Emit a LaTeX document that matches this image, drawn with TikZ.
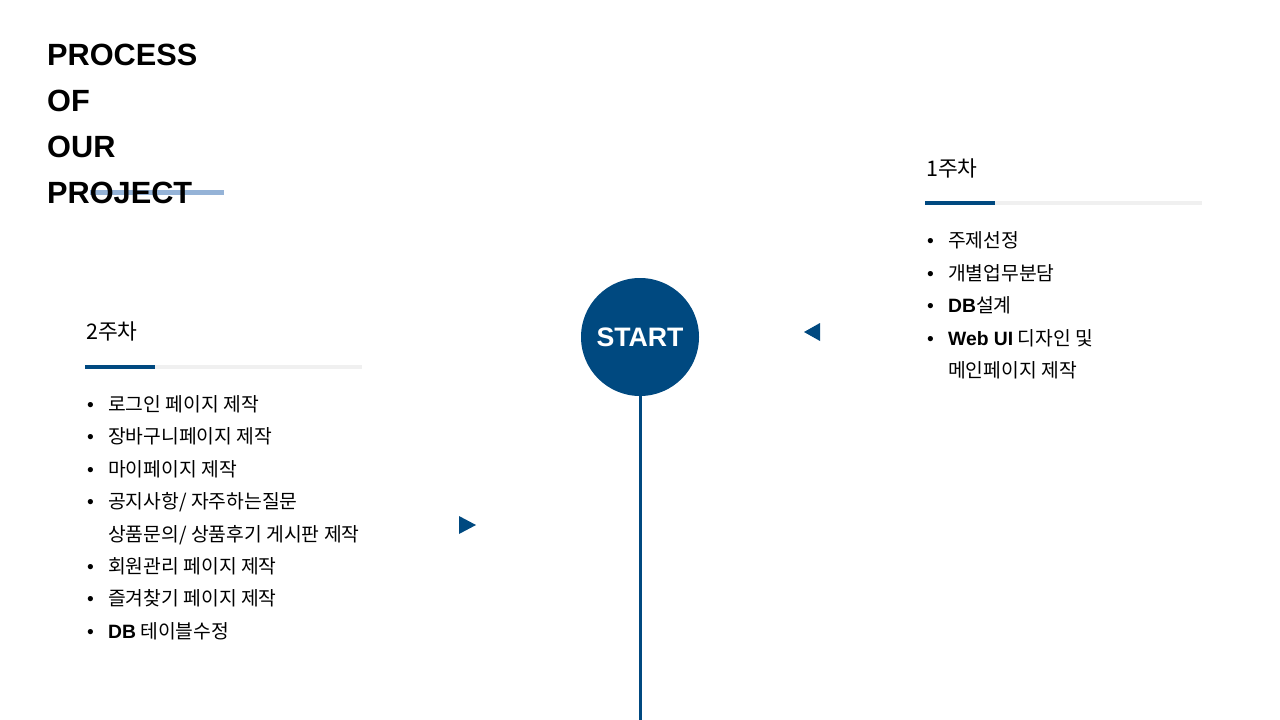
\documentclass[tikz,border=0pt]{standalone}
\usepackage{fontspec}
\setmainfont{Liberation Sans}
\newfontfamily\krfont{Noto Sans CJK KR}
\definecolor{navy}{RGB}{0,73,128}
\definecolor{paleblue}{RGB}{149,179,215}
\definecolor{lightgrey}{RGB}{240,240,240}
\newcommand\bul{\makebox[21pt][l]{\normalfont\textbullet}}
\newcommand\cont{\hspace*{21pt}}
\newcommand\lat[1]{{\normalfont\bfseries #1}}
\tikzset{
  title/.style={anchor=base west, inner sep=0pt, font=\fontsize{30.7}{36}\selectfont\bfseries},
  week/.style={anchor=base west, inner sep=0pt, font=\fontsize{21.5}{26}\selectfont\krfont},
  task/.style={anchor=base west, inner sep=0pt, font=\fontsize{19.3}{23}\selectfont\krfont},
  bar/.style={line width=4pt},
}
\begin{document}
\begin{tikzpicture}[x=1pt, y=-1pt]
  \useasboundingbox[fill=white] (0,0) rectangle (1280,720);

  % Title
  \draw[paleblue, line width=5pt] (90,192.5) -- (224,192.5);
  \foreach \word [count=\i] in {PROCESS, OF, OUR, PROJECT}
    \node (title\i) [title] at (47, 19+46*\i) {\word};

  % Start circle and time line
  \node (start) [circle, fill=navy, minimum size=118pt, inner sep=0pt,
    text=white, font=\fontsize{26.7}{30}\selectfont\bfseries] at (640,337) {START};
  \coordinate (lineend) at (640,720);
  \draw[navy, line width=3pt] (start.south) -- (lineend);

  % Markers
  \fill[navy] (820,323) -- (804,332) -- (820,341) -- cycle;
  \fill[navy] (459,516) -- (476,525) -- (459,534) -- cycle;

  % Week 1
  \node (week1) [week] at (926,176) {1주차};
  \draw[bar, lightgrey] (925,203) -- (1202,203);
  \draw[bar, navy] (925,203) -- (995,203);
  \foreach \txt [count=\i] in {\bul 주제선정, \bul 개별업무분담, \bul\lat{DB}설계,
      \bul\lat{Web UI} 디자인 및, \cont 메인페이지 제작}
    \node (taskA\i) [task] at (927, 215+32.5*\i) {\txt};

  % Week 2
  \node (week2) [week] at (86,339) {2주차};
  \draw[bar, lightgrey] (85,367) -- (362,367);
  \draw[bar, navy] (85,367) -- (155,367);
  \foreach \txt [count=\i] in {\bul 로그인 페이지 제작, \bul 장바구니페이지 제작,
      \bul 마이페이지 제작, \bul 공지사항/ 자주하는질문,
      \cont 상품문의/ 상품후기 게시판 제작, \bul 회원관리 페이지 제작,
      \bul 즐겨찾기 페이지 제작, \bul\lat{DB} 테이블수정}
    \node (taskB\i) [task] at (87, 379+32.4*\i) {\txt};
\end{tikzpicture}
\end{document}
